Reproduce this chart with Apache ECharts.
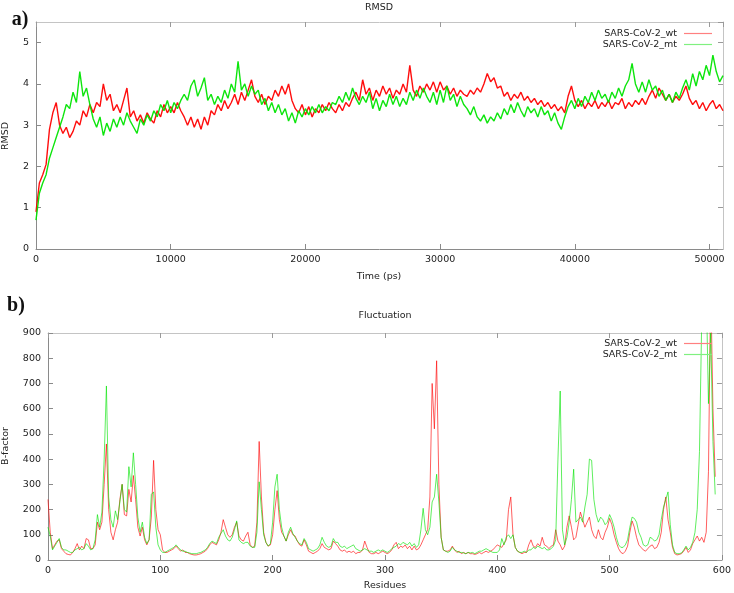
<!DOCTYPE html>
<html>
<head>
<meta charset="utf-8">
<script src="https://cdn.jsdelivr.net/npm/echarts/dist/echarts.min.js"></script>
<style>html,body{margin:0;padding:0;background:#fff;}#c{width:734px;height:593px;}</style>
</head>
<body>
<div id="c"></div>
<script>
// ---------- RMSD panel (time step 250 ps, 0 .. 51000 ps) ----------
const rmsdStep = 250;
const rmsdWt = [
  0.9,1.6,1.8,2.05,2.9,3.3,3.55,3.0,2.8,2.95,2.7,2.85,3.1,3.0,3.35,3.2,3.5,3.3,3.55,3.45,
  4.0,3.6,3.75,3.35,3.5,3.3,3.6,3.9,3.2,3.35,3.1,3.25,3.05,3.3,3.15,3.05,3.35,3.2,3.5,3.3,
  3.45,3.3,3.55,3.35,3.2,3.0,3.2,2.95,3.15,2.9,3.2,3.0,3.35,3.25,3.5,3.35,3.6,3.4,3.55,3.75,
  3.5,3.8,3.6,3.85,4.1,3.7,3.55,3.75,3.5,3.7,3.6,3.85,3.7,3.95,3.75,4.0,3.6,3.4,3.3,3.5,
  3.25,3.45,3.2,3.4,3.3,3.5,3.35,3.55,3.4,3.3,3.5,3.35,3.55,3.45,3.65,3.8,3.6,4.1,3.75,3.9,
  3.6,3.85,3.7,3.95,3.75,3.9,3.65,3.85,3.75,4.0,3.8,4.45,3.85,3.7,3.95,3.8,4.0,3.85,4.05,3.8,
  4.05,3.85,3.95,3.75,3.9,3.7,3.85,3.75,3.7,3.85,3.75,3.9,3.8,4.0,4.25,4.05,4.15,3.9,3.95,3.7,
  3.8,3.6,3.75,3.65,3.8,3.6,3.7,3.55,3.65,3.5,3.6,3.45,3.55,3.4,3.5,3.35,3.45,3.3,3.7,3.95,
  3.6,3.45,3.6,3.4,3.55,3.45,3.6,3.4,3.55,3.45,3.6,3.4,3.55,3.5,3.65,3.4,3.55,3.45,3.6,3.5,
  3.65,3.5,3.7,3.85,3.65,3.9,3.75,3.6,3.75,3.55,3.7,3.6,3.75,3.95,3.65,3.5,3.6,3.4,3.55,3.35,
  3.5,3.6,3.4,3.5,3.35
];
const rmsdMt = [
  0.7,1.35,1.6,1.8,2.2,2.45,2.7,2.95,3.2,3.5,3.4,3.8,3.55,4.3,3.7,3.9,3.5,3.15,2.95,3.2,
  2.75,3.05,2.85,3.15,2.95,3.2,3.0,3.3,3.1,2.95,2.8,3.15,3.0,3.25,3.1,3.35,3.2,3.5,3.35,3.6,
  3.3,3.55,3.4,3.6,3.75,3.6,3.95,4.1,3.7,3.9,4.15,3.6,3.75,3.5,3.7,3.55,3.85,3.65,4.0,3.8,
  4.55,3.85,4.0,3.7,3.95,3.75,3.85,3.5,3.65,3.35,3.55,3.3,3.5,3.25,3.4,3.1,3.3,3.05,3.35,3.2,
  3.4,3.25,3.45,3.3,3.5,3.3,3.45,3.35,3.55,3.5,3.7,3.55,3.8,3.6,3.9,3.65,3.5,3.7,3.55,3.8,
  3.4,3.65,3.35,3.6,3.45,3.75,3.5,3.7,3.45,3.65,3.5,3.8,3.6,3.85,3.65,3.9,3.7,3.55,3.8,3.5,
  3.85,3.55,3.95,3.6,3.75,3.45,3.7,3.5,3.4,3.25,3.45,3.2,3.1,3.25,3.05,3.2,3.1,3.3,3.15,3.4,
  3.25,3.5,3.3,3.55,3.35,3.2,3.45,3.3,3.4,3.2,3.45,3.25,3.35,3.1,3.3,3.05,2.9,3.2,3.45,3.6,
  3.4,3.65,3.45,3.7,3.55,3.8,3.6,3.85,3.65,3.75,3.55,3.8,3.65,3.9,3.7,3.95,4.1,4.5,4.0,3.8,
  4.05,3.8,4.1,3.85,3.95,3.7,3.85,3.6,3.75,3.55,3.8,3.65,3.9,4.1,3.85,4.25,3.95,4.3,4.1,4.45,
  4.2,4.7,4.3,4.05,4.2
];

// ---------- Fluctuation panel (residue step 2, 0 .. 594) ----------
const resStep = 2;
const bfacWt = [
  240,110,45,60,75,80,45,35,25,22,
  20,30,45,65,40,55,45,85,80,45,
  45,60,150,120,150,300,460,200,110,80,
  120,150,240,300,180,175,280,230,335,240,
  130,95,130,80,60,80,170,395,200,120,
  100,40,30,30,35,40,45,55,45,35,
  40,30,30,25,22,20,20,22,25,30,
  35,45,60,70,65,60,80,110,160,130,
  100,90,100,130,150,95,80,75,95,110,
  60,50,55,150,470,250,110,70,55,60,
  100,200,275,160,110,95,75,100,120,100,
  95,75,60,55,80,60,35,30,25,30,
  35,45,65,50,45,40,45,75,65,55,
  40,35,40,30,35,30,35,25,30,30,
  40,75,50,30,25,25,30,25,30,35,
  30,25,30,40,60,70,45,55,50,60,
  45,55,40,55,40,45,60,80,100,120,
  250,700,520,790,300,90,40,35,35,40,
  55,40,30,35,25,30,25,30,25,25,
  22,25,30,25,30,35,30,35,40,50,
  60,55,50,65,80,200,250,100,50,35,
  30,25,30,30,60,80,55,50,65,55,
  90,60,55,45,55,60,120,75,60,40,
  55,130,175,130,80,90,140,190,160,130,
  150,170,120,95,85,120,90,80,110,130,
  165,140,100,70,45,30,25,35,55,110,
  155,130,90,60,50,40,35,45,55,60,
  45,50,70,110,200,250,160,110,50,25,
  20,22,25,35,50,30,40,65,80,95,
  75,90,70,110,350,1100,600,330
];
const bfacMt = [
  130,95,40,55,70,85,50,40,40,35,
  30,30,40,45,50,40,45,65,55,40,
  45,80,180,130,190,400,690,250,160,130,
  195,160,230,300,200,190,370,290,425,300,
  170,110,150,90,65,80,260,270,130,60,
  40,30,30,35,40,45,50,60,50,40,
  35,35,30,28,25,25,25,28,30,35,
  40,50,65,75,70,65,90,105,120,95,
  80,75,90,120,155,80,70,65,70,70,
  55,50,50,110,310,200,100,70,55,65,
  150,290,340,200,130,95,75,110,130,105,
  90,75,65,60,85,70,45,40,35,40,
  45,60,90,70,55,50,55,85,70,70,
  55,50,55,45,50,55,60,45,40,35,
  40,45,40,35,35,30,35,40,35,40,
  35,30,35,45,50,55,65,60,70,65,
  60,70,55,65,50,60,120,205,120,100,
  130,230,250,340,230,90,40,35,30,35,
  50,40,35,30,30,28,25,30,28,30,
  25,30,35,35,40,45,40,35,30,30,
  30,40,85,60,90,100,85,100,50,35,
  30,30,35,30,40,40,50,45,55,50,
  45,50,40,40,45,55,80,400,670,120,
  60,90,150,240,360,150,160,170,150,210,
  260,400,395,240,180,150,170,160,140,150,
  180,160,130,90,60,50,50,60,80,130,
  170,165,150,110,90,60,55,60,90,85,
  75,80,100,160,210,240,270,140,60,30,
  25,25,28,40,55,40,50,70,110,200,
  430,950,1200,1100,620,900,470,260
];
const seriesNames = ['SARS-CoV-2_wt', 'SARS-CoV-2_mt'];
const seriesColors = ['#ff0000', '#00e400'];
const legendColors = ['#ff8080', '#80f080'];

const FONT = "'DejaVu Sans', Verdana, sans-serif";
const TXT = '#222';

function pairs(arr, step) {
  return arr.map((v, i) => [i * step, v]);
}

function mainX(grid, min, max, interval) {
  return {
    type: 'value', gridIndex: grid, position: 'bottom', min, max, interval,
    axisLine: { show: true, onZero: false, lineStyle: { color: '#8a8a8a', width: 1 } },
    axisTick: { show: true, inside: true, length: 5, lineStyle: { color: '#8a8a8a' } },
    axisLabel: { show: true, margin: 6, fontSize: 9.5, fontFamily: FONT, color: TXT,
                 showMaxLabel: max % interval === 0, formatter: v => String(v) },
    splitLine: { show: false }
  };
}
function mirrorX(grid, min, max, interval) {
  return {
    type: 'value', gridIndex: grid, position: 'top', min, max, interval,
    axisLine: { show: true, onZero: false, lineStyle: { color: '#c4c4c4', width: 1 } },
    axisTick: { show: true, inside: true, length: 5, lineStyle: { color: '#9a9a9a' } },
    axisLabel: { show: false }, splitLine: { show: false }
  };
}
function mainY(grid, min, max, interval) {
  return {
    type: 'value', gridIndex: grid, position: 'left', min, max, interval,
    axisLine: { show: true, onZero: false, lineStyle: { color: '#8a8a8a', width: 1 } },
    axisTick: { show: true, inside: true, length: 5, lineStyle: { color: '#8a8a8a' } },
    axisLabel: { show: true, margin: 7, fontSize: 9.5, fontFamily: FONT, color: TXT,
                 showMaxLabel: max % interval === 0, formatter: v => String(v) },
    splitLine: { show: false }
  };
}
function mirrorY(grid, min, max, interval) {
  return {
    type: 'value', gridIndex: grid, position: 'right', min, max, interval,
    axisLine: { show: true, onZero: false, lineStyle: { color: '#c4c4c4', width: 1 } },
    axisTick: { show: true, inside: true, length: 5, lineStyle: { color: '#9a9a9a' } },
    axisLabel: { show: false }, splitLine: { show: false }
  };
}
function lineSeries(name, color, data, xi, yi, width, opacity) {
  return {
    type: 'line', name, data, xAxisIndex: xi, yAxisIndex: yi,
    showSymbol: false, symbol: 'none', sampling: null, clip: true,
    itemStyle: { color },
    lineStyle: { color, width, opacity }
  };
}
function legend(top) {
  return {
    orient: 'vertical', right: 17, top, align: 'right',
    icon: 'rect', itemWidth: 28, itemHeight: 1.2, itemGap: 0,
    selectedMode: false,
    data: seriesNames.map((n, i) => ({ name: n, itemStyle: { color: legendColors[i], borderWidth: 0 } })),
    textStyle: { fontSize: 9.5, fontFamily: FONT, color: TXT, lineHeight: 11,
                 width: 76, align: 'right', padding: [0, 2, 0, 0] }
  };
}
function label(text, x, y, opts) {
  opts = opts || {};
  return {
    type: 'text', x, y, rotation: opts.rotation || 0, silent: true,
    style: {
      text, fill: opts.color || TXT,
      font: opts.font || ('9.5px ' + FONT),
      textAlign: 'center', textVerticalAlign: 'middle',
      align: 'center', verticalAlign: 'middle'
    }
  };
}

const chart = echarts.init(document.getElementById('c'), null, { renderer: 'canvas' });
chart.setOption({
  animation: false,
  backgroundColor: '#ffffff',
  grid: [
    { left: 36, top: 22, width: 687, height: 227, containLabel: false },
    { left: 48, top: 333, width: 675, height: 227, containLabel: false }
  ],
  xAxis: [
    mainX(0, 0, 51000, 10000),
    mirrorX(0, 0, 51000, 10000),
    mainX(1, 0, 600, 100),
    mirrorX(1, 0, 600, 100)
  ],
  yAxis: [
    mainY(0, 0, 5.5, 1),
    mirrorY(0, 0, 5.5, 1),
    mainY(1, 0, 900, 100),
    mirrorY(1, 0, 900, 100)
  ],
  legend: [legend(23), legend(333)],
  series: [
    lineSeries(seriesNames[0], seriesColors[0], pairs(rmsdWt, rmsdStep), 0, 0, 1.4, 0.95),
    lineSeries(seriesNames[1], seriesColors[1], pairs(rmsdMt, rmsdStep), 0, 0, 1.4, 0.95),
    lineSeries(seriesNames[0], seriesColors[0], pairs(bfacWt, resStep), 2, 2, 0.9, 0.7),
    lineSeries(seriesNames[1], seriesColors[1], pairs(bfacMt, resStep), 2, 2, 0.9, 0.7)
  ],
  graphic: [
    label('a)', 20, 20, { font: 'bold 20px "Liberation Serif", "Times New Roman", serif', color: '#111' }),
    label('b)', 16, 306, { font: 'bold 20px "Liberation Serif", "Times New Roman", serif', color: '#111' }),
    label('RMSD', 379, 8),
    label('Fluctuation', 385, 316),
    label('Time (ps)', 379, 277),
    label('Residues', 385, 586),
    label('RMSD', 6, 136, { rotation: Math.PI / 2 }),
    label('B-factor', 6, 446, { rotation: Math.PI / 2 })
  ]
});
</script>
</body>
</html>
